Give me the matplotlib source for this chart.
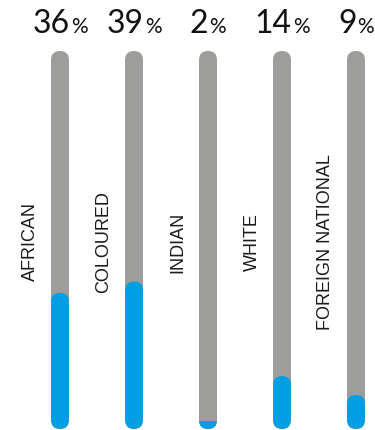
import matplotlib
matplotlib.use("Agg")
import matplotlib.pyplot as plt
from matplotlib.patches import FancyBboxPatch, Rectangle

# data
groups = ["AFRICAN", "COLOURED", "INDIAN", "WHITE", "FOREIGN NATIONAL"]
shares = [36, 39, 2, 14, 9]

grey = "#9d9d9c"
blue = "#009fe3"

W, H, DPI = 375, 430, 100
fig = plt.figure(figsize=(W / DPI, H / DPI), dpi=DPI)
ax = fig.add_axes([0, 0, 1, 1])

# pixel geometry -> data limits (one x unit = 74 px, 100 % = 378 px)
step_px, first_px, full_px, base_px = 74, 60, 378, 429
ax.set_xlim(-first_px / step_px, (W - first_px) / step_px)
ax.set_ylim((base_px - H) / full_px * 100, base_px / full_px * 100)
ax.axis("off")

bar_w = 18 / step_px             # bar width in x units
rx = bar_w / 2                   # rounding radius in x units
aspect = (100 / full_px) / (1 / step_px)
ry = rx * aspect                 # same radius in y units

for i, (g, v) in enumerate(zip(groups, shares)):
    track = FancyBboxPatch((i - rx, 0), bar_w, 100,
                           boxstyle=f"round,pad=0,rounding_size={rx}",
                           mutation_aspect=aspect, fc=grey, ec="none")
    ax.add_patch(track)
    if v * 1.0 > 2 * ry:
        fill = FancyBboxPatch((i - rx, 0), bar_w, v,
                              boxstyle=f"round,pad=0,rounding_size={rx}",
                              mutation_aspect=aspect, fc=blue, ec="none")
    else:
        fill = Rectangle((i - rx, 0), bar_w, v, fc=blue, ec="none")
    ax.add_patch(fill)
    fill.set_clip_path(track)

    ax.annotate(g, xy=(i, 49.5), xytext=(-30, 0), textcoords="offset pixels",
                rotation=90, ha="center", va="center", fontsize=13,
                family="Liberation Sans", color="#1a1a1a")

# percentage labels: big number + small % sign, centred together
num_texts, pct_texts = [], []
for i, v in enumerate(shares):
    t1 = ax.annotate(str(v), xy=(i, 104.8), xytext=(0, 0), textcoords="offset pixels",
                     ha="left", va="baseline", fontsize=23, family="Lato",
                     color="#111111")
    t2 = ax.annotate("%", xy=(i, 104.8), xytext=(0, 0), textcoords="offset pixels",
                     ha="left", va="baseline", fontsize=15, family="Lato",
                     color="#111111")
    num_texts.append(t1)
    pct_texts.append(t2)

fig.canvas.draw()
r = fig.canvas.get_renderer()
for t1, t2 in zip(num_texts, pct_texts):
    w1 = t1.get_window_extent(r).width
    w2 = t2.get_window_extent(r).width
    start = -(w1 + w2 + 1) / 2
    t1.xyann = (start, 0)
    t2.xyann = (start + w1 + 1, 0)

fig.savefig("out.png", dpi=DPI)
